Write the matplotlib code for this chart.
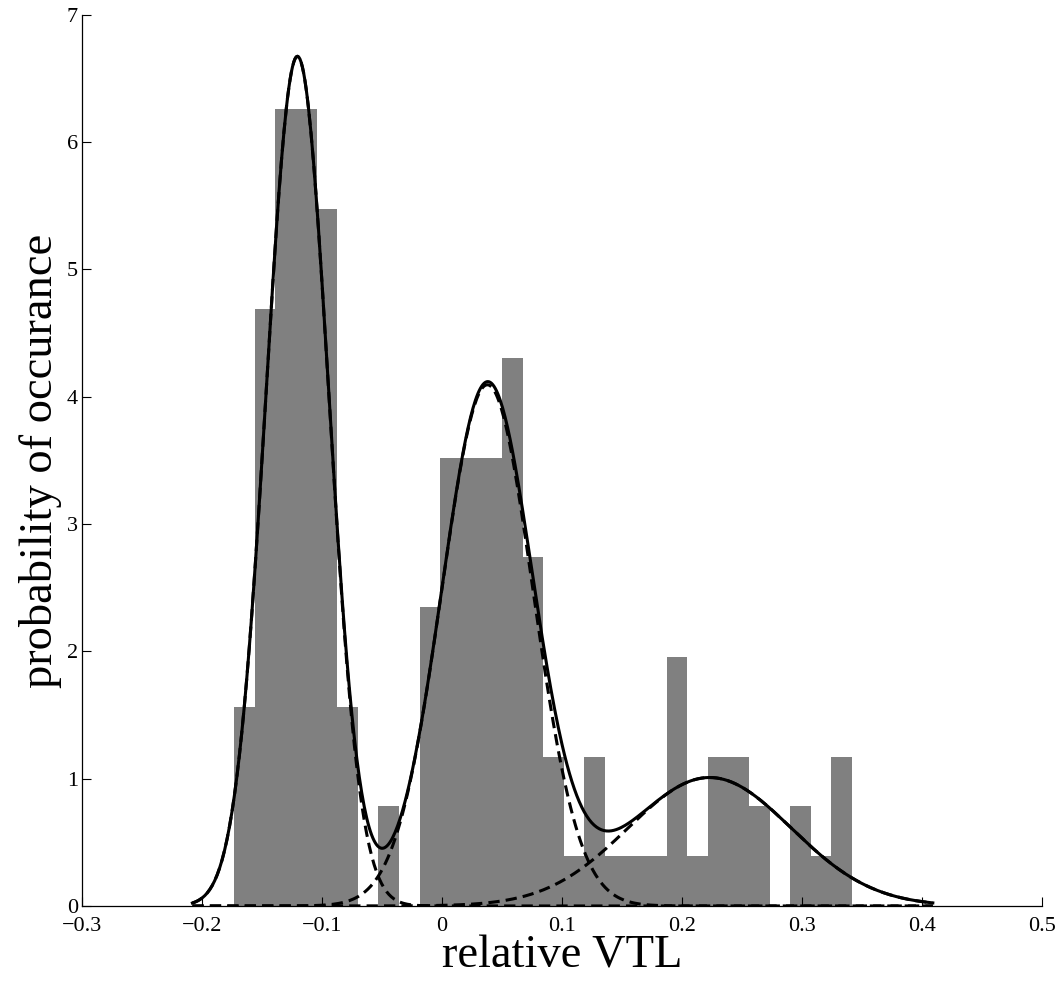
import numpy as np
import matplotlib
matplotlib.use("Agg")
import matplotlib.pyplot as plt

# histogram of relative VTL: 30 equal bins, counts per bin
bin_start = -0.1731
bin_width = 0.01716
counts = np.array([4, 12, 16, 16, 14, 4, 0, 2, 0, 6,
                   9, 9, 9, 11, 7, 3, 1, 3, 1, 1,
                   1, 5, 1, 3, 3, 2, 0, 2, 1, 3])

# fitted gaussian mixture (weight, mean, std)
mix_weights = [0.435, 0.390, 0.172]
mix_means = [-0.1205, 0.0378, 0.2230]
mix_stds = [0.0260, 0.0380, 0.0680]
curve_range = (-0.208, 0.409)

xtick_vals = [-0.3, -0.2, -0.1, 0, 0.1, 0.2, 0.3, 0.4, 0.5]
xtick_labels = ["\u22120.3", "\u22120.2", "\u22120.1", "0", "0.1",
                "0.2", "0.3", "0.4", "0.5"]
ytick_vals = [0, 1, 2, 3, 4, 5, 6, 7]


def gauss(x, w, mu, sd):
    return w * np.exp(-0.5 * ((x - mu) / sd) ** 2) / (sd * np.sqrt(2 * np.pi))


plt.rcParams['font.family'] = ['Liberation Serif', 'DejaVu Serif']

fig = plt.figure(figsize=(10.61, 9.81), dpi=100)
ax = fig.add_axes([0.0773, 0.0765, 0.9048, 0.9083])

# Histogram as probability density
density = counts / (counts.sum() * bin_width)
left_edges = bin_start + bin_width * np.arange(len(counts))
ax.bar(left_edges, density, width=bin_width, align='edge',
       color='#808080', edgecolor='none', linewidth=0)

# Mixture model and its components
xs = np.linspace(curve_range[0], curve_range[1], 600)
total = np.zeros_like(xs)
for w, mu, sd in zip(mix_weights, mix_means, mix_stds):
    comp = gauss(xs, w, mu, sd)
    total += comp
    ax.plot(xs, comp, color='k', linestyle='--', linewidth=2.2,
            dashes=(3.7, 2.0))
ax.plot(xs, total, color='k', linestyle='-', linewidth=2.2)

# Axes look (MATLAB style, box off)
ax.set_xlim(-0.3, 0.5)
ax.set_ylim(0, 7)
ax.spines['top'].set_visible(False)
ax.spines['right'].set_visible(False)
ax.spines['left'].set_linewidth(0.9)
ax.spines['bottom'].set_linewidth(0.9)
ax.set_xticks(xtick_vals)
ax.set_xticklabels(xtick_labels)
ax.set_yticks(ytick_vals)
ax.tick_params(axis='both', direction='in', length=6.5, width=0.8,
               labelsize=16)
ax.tick_params(axis='x', pad=8)
ax.tick_params(axis='y', pad=3)

ax.set_xlabel("relative VTL", fontsize=33.5)
ax.set_ylabel("probability of occurance", fontsize=33.5)
ax.xaxis.set_label_coords(0.5, -0.033)
ax.yaxis.set_label_coords(-0.021, 0.5)

fig.savefig("out.png", dpi=100)
